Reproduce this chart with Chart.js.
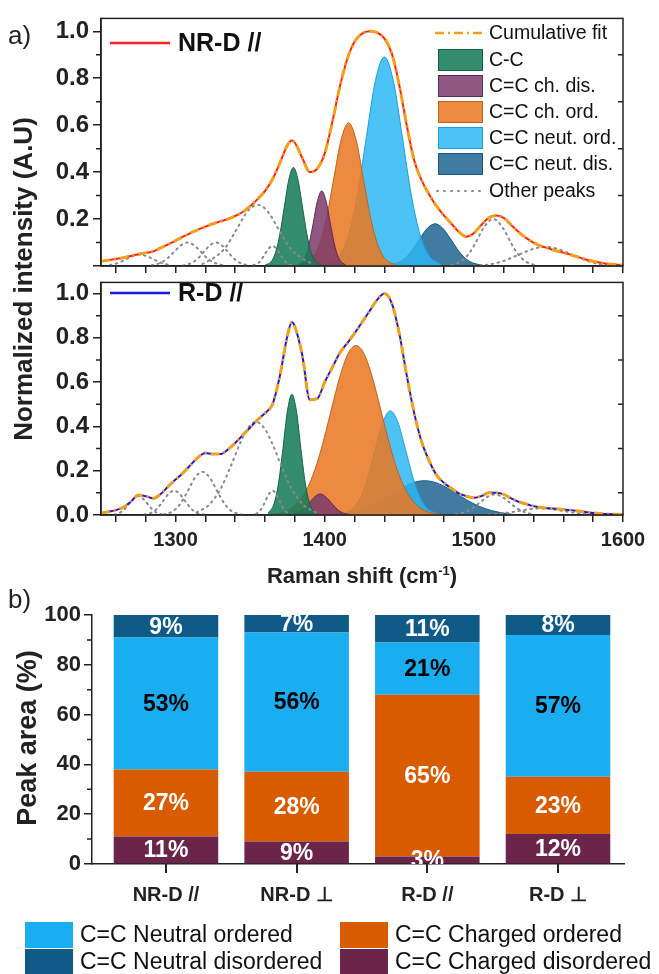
<!DOCTYPE html>
<html>
<head>
<meta charset="utf-8">
<title>Raman spectra and peak areas</title>
<script src="https://cdn.jsdelivr.net/npm/chart.js"></script>
<style>
  body {
    margin: 0;
    width: 659px;
    height: 974px;
    position: relative;
    overflow: hidden;
    background: #ffffff;
    font-family: "Liberation Sans", Arial, sans-serif;
    color: #222;
  }
  canvas { position: absolute; left: 0; }
  #topChart { top: 0; z-index: 3; }
  #midChart { top: 264px; z-index: 2; }
  #barChart { top: 590px; z-index: 1; }
  .txt { position: absolute; z-index: 5; white-space: nowrap; }
  .rot { transform: rotate(-90deg); text-align: center; font-weight: bold; }
</style>
</head>
<body>
<canvas id="topChart" width="659" height="285"></canvas>
<canvas id="midChart" width="659" height="330"></canvas>
<canvas id="barChart" width="659" height="384"></canvas>

<div class="txt" style="left:8px;top:20px;font-size:26px;">a)</div>
<div class="txt" style="left:8px;top:584px;font-size:26px;">b)</div>
<div class="txt rot" style="left:-207px;top:264px;width:460px;font-size:26px;line-height:30px;">Normalized intensity (A.U)</div>
<div class="txt rot" style="left:-123px;top:723px;width:300px;font-size:27px;line-height:30px;">Peak area (%)</div>
<div class="txt" style="left:162px;top:563px;width:400px;text-align:center;font-size:22px;font-weight:bold;">Raman shift (cm<sup style="font-size:13px;">-1</sup>)</div>

<script>
// ---- spectra: shared Raman shift grid (cm-1) ----
const shiftX = [1250,1255,1260,1265,1270,1275,1280,1285,1290,1295,1300,1305,1310,1315,1320,1325,1330,1335,1340,1345,1350,1355,1360,1365,1370,1375,1378,1380,1385,1390,1395,1400,1405,1410,1415,1420,1425,1430,1435,1440,1445,1450,1455,1460,1465,1470,1475,1480,1485,1490,1495,1500,1505,1510,1515,1520,1525,1530,1535,1540,1545,1550,1555,1560,1565,1570,1575,1580,1585,1590,1595,1600];

// NR-D // measured spectrum (cumulative fit lies on top of it)
const nrdSpectrum = [0.02,0.025,0.03,0.035,0.043,0.05,0.056,0.062,0.077,0.092,0.108,0.125,0.14,0.155,0.168,0.18,0.19,0.20,0.213,0.23,0.255,0.285,0.32,0.37,0.44,0.515,0.535,0.525,0.46,0.40,0.415,0.48,0.61,0.76,0.88,0.955,0.99,1.0,0.995,0.97,0.905,0.77,0.60,0.45,0.365,0.305,0.255,0.215,0.18,0.145,0.125,0.14,0.175,0.205,0.215,0.205,0.175,0.145,0.12,0.10,0.085,0.075,0.065,0.057,0.048,0.038,0.028,0.02,0.014,0.009,0.006,0.004];
// R-D // measured spectrum
const rdSpectrum = [0.008,0.015,0.022,0.035,0.06,0.09,0.085,0.075,0.095,0.128,0.16,0.19,0.225,0.26,0.28,0.275,0.275,0.295,0.325,0.36,0.395,0.43,0.46,0.50,0.63,0.81,0.87,0.85,0.72,0.52,0.525,0.60,0.665,0.73,0.775,0.82,0.87,0.92,0.97,1.0,0.955,0.82,0.63,0.46,0.33,0.245,0.18,0.145,0.12,0.097,0.085,0.078,0.085,0.10,0.10,0.093,0.075,0.06,0.05,0.04,0.034,0.03,0.028,0.025,0.022,0.018,0.014,0.009,0.006,0.004,0.003,0.002];

// fitted components, NR-D // : [shift, intensity]
const nrdCC = [[1360,0.004],[1364,0.018],[1367,0.056],[1370,0.137],[1373,0.255],[1376,0.37],[1379,0.42],[1382,0.37],[1385,0.255],[1388,0.137],[1391,0.056],[1394,0.018],[1398,0.004]];
const nrdChDis = [[1382,0.004],[1386,0.027],[1389,0.079],[1392,0.172],[1395,0.274],[1398,0.32],[1401,0.274],[1404,0.172],[1407,0.079],[1410,0.027],[1414,0.004]];
const nrdChOrd = [[1384,0.004],[1391,0.027],[1396,0.083],[1401,0.198],[1406,0.37],[1411,0.538],[1416,0.61],[1421,0.538],[1426,0.37],[1431,0.198],[1436,0.083],[1441,0.027],[1448,0.004]];
const nrdNeutOrd = [[1402,0.007],[1410,0.045],[1416,0.132],[1422,0.304],[1428,0.552],[1434,0.79],[1440,0.89],[1446,0.79],[1452,0.552],[1458,0.304],[1464,0.132],[1470,0.045],[1478,0.007]];
const nrdNeutDis = [[1442,0.003],[1449,0.014],[1454,0.034],[1459,0.071],[1464,0.119],[1469,0.162],[1474,0.18],[1479,0.162],[1484,0.119],[1489,0.071],[1494,0.034],[1499,0.014],[1506,0.003]];
const nrdOther = [
  [[1256,0.004],[1261,0.012],[1266,0.026],[1271,0.041],[1276,0.048],[1281,0.041],[1286,0.026],[1291,0.012],[1296,0.004]],
  [[1284,0.003],[1290,0.014],[1295,0.035],[1300,0.067],[1304,0.09],[1308,0.10],[1312,0.09],[1316,0.067],[1321,0.035],[1326,0.014],[1332,0.003]],
  [[1305,0.002],[1311,0.014],[1315,0.032],[1319,0.061],[1323,0.088],[1327,0.10],[1331,0.088],[1335,0.061],[1339,0.032],[1343,0.014],[1349,0.002]],
  [[1318,0.008],[1326,0.036],[1333,0.075],[1340,0.146],[1346,0.212],[1350,0.245],[1355,0.26],[1360,0.245],[1364,0.212],[1370,0.146],[1377,0.075],[1384,0.036],[1392,0.008]],
  [[1352,0.003],[1356,0.016],[1359,0.041],[1362,0.071],[1365,0.085],[1368,0.071],[1371,0.041],[1374,0.016],[1378,0.003]],
  [[1485,0.004],[1491,0.018],[1496,0.047],[1501,0.097],[1506,0.157],[1513,0.2],[1520,0.157],[1525,0.097],[1530,0.047],[1535,0.018],[1541,0.004]],
  [[1500,0.001],[1510,0.006],[1520,0.022],[1530,0.048],[1540,0.073],[1548,0.082],[1556,0.073],[1566,0.048],[1576,0.022],[1586,0.006],[1596,0.001]]
];

// fitted components, R-D //
const rdCC = [[1362,0.008],[1366,0.05],[1369,0.143],[1372,0.30],[1375,0.47],[1378,0.545],[1381,0.47],[1384,0.30],[1387,0.143],[1390,0.05],[1394,0.008]];
const rdChDis = [[1376,0.001],[1381,0.007],[1385,0.022],[1389,0.05],[1393,0.08],[1397,0.095],[1401,0.08],[1405,0.05],[1409,0.022],[1413,0.007],[1418,0.001]];
const rdChOrd = [[1363,0.002],[1371,0.01],[1379,0.036],[1386,0.092],[1391,0.161],[1396,0.259],[1401,0.383],[1406,0.518],[1411,0.643],[1416,0.733],[1421,0.765],[1426,0.733],[1431,0.643],[1436,0.518],[1441,0.383],[1446,0.259],[1451,0.161],[1456,0.092],[1463,0.036],[1471,0.01],[1479,0.002]];
const rdNeutOrd = [[1412,0.005],[1419,0.029],[1424,0.079],[1429,0.173],[1434,0.30],[1439,0.42],[1444,0.47],[1449,0.42],[1454,0.30],[1459,0.173],[1464,0.079],[1469,0.029],[1476,0.005]];
const rdNeutDis = [[1407,0.002],[1417,0.012],[1427,0.03],[1435,0.054],[1443,0.085],[1451,0.119],[1459,0.145],[1467,0.155],[1475,0.145],[1483,0.119],[1491,0.085],[1499,0.054],[1507,0.03],[1517,0.012],[1527,0.002]];
const rdOther = [
  [[1259,0.002],[1263,0.011],[1267,0.035],[1271,0.068],[1275,0.085],[1279,0.068],[1283,0.035],[1287,0.011],[1291,0.002]],
  [[1279,0.002],[1283,0.008],[1287,0.025],[1291,0.057],[1295,0.093],[1299,0.11],[1303,0.093],[1307,0.057],[1311,0.025],[1315,0.008],[1319,0.002]],
  [[1292,0.003],[1298,0.016],[1303,0.049],[1308,0.106],[1313,0.168],[1318,0.195],[1323,0.168],[1328,0.106],[1333,0.049],[1338,0.016],[1344,0.003]],
  [[1314,0.012],[1322,0.043],[1330,0.116],[1337,0.22],[1343,0.32],[1348,0.387],[1354,0.42],[1360,0.387],[1365,0.32],[1371,0.22],[1378,0.116],[1386,0.043],[1394,0.012]],
  [[1354,0.005],[1357,0.023],[1360,0.059],[1362,0.088],[1365,0.11],[1368,0.088],[1370,0.059],[1373,0.023],[1376,0.005]],
  [[1488,0.003],[1494,0.013],[1499,0.03],[1504,0.056],[1509,0.082],[1514,0.093],[1519,0.082],[1524,0.056],[1529,0.03],[1534,0.013],[1540,0.003]],
  [[1510,0.002],[1520,0.008],[1530,0.018],[1538,0.027],[1545,0.03],[1552,0.027],[1560,0.018],[1570,0.008],[1580,0.002]]
];

// ---- peak areas (%) ----
const sampleNames = ["NR-D //", "NR-D \u22A5", "R-D //", "R-D \u22A5"];
const sampleIndex = [0, 1, 2, 3];
const chargedDisordered = [11, 9, 3, 12];
const chargedOrdered = [27, 28, 65, 23];
const neutralOrdered = [53, 56, 21, 57];
const neutralDisordered = [9, 7, 11, 8];

// ---- styles ----
const FONT = '"Liberation Sans", Arial, sans-serif';
const INK = "#222";
const peakStyle = {
  cc:      { fill: "rgba(24,124,90,0.88)",  line: "#146348" },
  chDis:   { fill: "rgba(125,58,108,0.85)", line: "#5e2a52" },
  chOrd:   { fill: "rgba(232,122,38,0.88)", line: "#c1631a" },
  neutOrd: { fill: "rgba(45,183,243,0.85)", line: "#1e9fd8" },
  neutDis: { fill: "rgba(30,100,145,0.85)", line: "#1a5a82" }
};
const fitColor = "#f0a21c";
const otherColor = "#8a8a8a";

function pts(xs, ys) { return xs.map((x, i) => ({ x: x, y: ys[i] })); }
function pairs(a) { return a.map(p => ({ x: p[0], y: p[1] })); }

// frame, minor ticks and in-plot legends of the spectra
const spectrumDecor = {
  id: "spectrumDecor",
  afterDraw(chart, args, o) {
    const { ctx, chartArea: a, scales: { x, y } } = chart;
    ctx.save();
    ctx.strokeStyle = INK;
    ctx.lineWidth = 1.5;
    ctx.strokeRect(a.left, a.top, a.right - a.left, a.bottom - a.top);
    ctx.beginPath();
    [0.1, 0.3, 0.5, 0.7, 0.9].forEach(v => {
      const py = y.getPixelForValue(v);
      ctx.moveTo(a.left - 5, py); ctx.lineTo(a.left, py);
      ctx.moveTo(a.right - 5, py); ctx.lineTo(a.right, py);
    });
    ctx.stroke();

    // sample label, top left
    ctx.lineWidth = 2.5;
    ctx.strokeStyle = o.sampleColor;
    ctx.beginPath(); ctx.moveTo(110, o.sampleY); ctx.lineTo(170, o.sampleY); ctx.stroke();
    ctx.fillStyle = "#111";
    ctx.font = "bold 25px " + FONT;
    ctx.textBaseline = "middle";
    ctx.textAlign = "left";
    ctx.fillText(o.sample, 178, o.sampleY + 1);

    if (o.legend) {
      ctx.font = "19.5px " + FONT;
      const rows = [
        { t: "line", label: "Cumulative fit", y: 33 },
        { t: "box", label: "C-C", s: peakStyle.cc, y: 60 },
        { t: "box", label: "C=C ch. dis.", s: peakStyle.chDis, y: 86 },
        { t: "box", label: "C=C ch. ord.", s: peakStyle.chOrd, y: 112 },
        { t: "box", label: "C=C neut. ord.", s: peakStyle.neutOrd, y: 138 },
        { t: "box", label: "C=C neut. dis.", s: peakStyle.neutDis, y: 164 },
        { t: "dots", label: "Other peaks", y: 191 }
      ];
      rows.forEach(r => {
        if (r.t === "line") {
          ctx.strokeStyle = fitColor; ctx.lineWidth = 2.5; ctx.setLineDash([9, 4, 2, 4]);
          ctx.beginPath(); ctx.moveTo(435, r.y); ctx.lineTo(483, r.y); ctx.stroke();
          ctx.setLineDash([]);
        } else if (r.t === "dots") {
          ctx.strokeStyle = otherColor; ctx.lineWidth = 2; ctx.lineCap = "round"; ctx.setLineDash([1, 6]);
          ctx.beginPath(); ctx.moveTo(437, r.y); ctx.lineTo(483, r.y); ctx.stroke();
          ctx.setLineDash([]); ctx.lineCap = "butt";
        } else {
          ctx.fillStyle = r.s.fill; ctx.fillRect(438, r.y - 11, 45, 22);
          ctx.strokeStyle = r.s.line; ctx.lineWidth = 1; ctx.strokeRect(438.5, r.y - 10.5, 44, 21);
        }
        ctx.fillStyle = "#111";
        ctx.fillText(r.label, 489, r.y + 1);
      });
    }
    ctx.restore();
  }
};

function spectrumDatasets(spectrum, sampleColor, cc, chDis, chOrd, neutOrd, neutDis, others) {
  const line = (data, color, width, dash) => ({
    data: data, borderColor: color, borderWidth: width, borderDash: dash || [],
    pointRadius: 0, fill: false, cubicInterpolationMode: "monotone"
  });
  const area = (data, s) => ({
    data: pairs(data), borderColor: s.line, borderWidth: 1, backgroundColor: s.fill,
    pointRadius: 0, fill: "origin", cubicInterpolationMode: "monotone"
  });
  const sets = [
    line(pts(shiftX, spectrum), fitColor, 3, [9, 4, 2, 4]),   // cumulative fit
    line(pts(shiftX, spectrum), sampleColor, 2)                // measured
  ];
  others.forEach(o => {
    const d = line(pairs(o), otherColor, 2, [1.5, 4.5]);
    d.borderCapStyle = "round";
    sets.push(d);
  });
  sets.push(area(cc, peakStyle.cc), area(chDis, peakStyle.chDis), area(chOrd, peakStyle.chOrd),
            area(neutOrd, peakStyle.neutOrd), area(neutDis, peakStyle.neutDis));
  return sets;
}

function spectrumChart(id, datasets, o) {
  return new Chart(document.getElementById(id), {
    type: "line",
    data: { datasets: datasets },
    plugins: [spectrumDecor],
    options: {
      responsive: false,
      animation: false,
      layout: { padding: { left: 0, right: 36, top: o.padTop, bottom: 0 } },
      plugins: {
        legend: { display: false },
        tooltip: { enabled: false },
        spectrumDecor: o.decor
      },
      scales: {
        x: {
          type: "linear", min: 1250, max: 1600,
          afterFit(s) { s.height = o.xHeight; },
          border: { display: true, color: INK, width: 1.5 },
          grid: { drawOnChartArea: false, drawTicks: true, tickLength: 7, color: INK, lineWidth: 1.5 },
          ticks: {
            stepSize: 20, includeBounds: false, maxRotation: 0, autoSkip: false,
            padding: 6, color: INK, font: { family: FONT, size: 20, weight: "bold" },
            callback: v => (o.xLabels && v % 100 === 0) ? String(v) : ""
          }
        },
        y: {
          min: 0, max: o.yMax,
          afterFit(s) { s.width = 101; },
          border: { display: true, color: INK, width: 1.5 },
          grid: { drawOnChartArea: false, drawTicks: true, tickLength: 8, color: INK, lineWidth: 1.5 },
          ticks: {
            stepSize: 0.2, includeBounds: false, padding: 4, color: INK,
            font: { family: FONT, size: 24, weight: "bold" },
            callback: v => (o.hideZero && v === 0) ? "" : v.toFixed(1)
          }
        }
      }
    }
  });
}

spectrumChart("topChart",
  spectrumDatasets(nrdSpectrum, "#ff2020", nrdCC, nrdChDis, nrdChOrd, nrdNeutOrd, nrdNeutDis, nrdOther),
  { padTop: 16, xHeight: 19, yMax: 1.055, hideZero: true, xLabels: false,
    decor: { sample: "NR-D //", sampleColor: "#ff2020", sampleY: 43, legend: true } });

spectrumChart("midChart",
  spectrumDatasets(rdSpectrum, "#1a1ae6", rdCC, rdChDis, rdChOrd, rdNeutOrd, rdNeutDis, rdOther),
  { padTop: 2, xHeight: 79, yMax: 1.05, hideZero: false, xLabels: true,
    decor: { sample: "R-D //", sampleColor: "#1a1ae6", sampleY: 29, legend: false } });

// ---- stacked bars ----
const barDecor = {
  id: "barDecor",
  afterDatasetsDraw(chart) {
    const { ctx, chartArea: a } = chart;
    ctx.save();
    // clip only at the base line so the small 3% label is cut like in the figure
    ctx.beginPath();
    ctx.rect(a.left, 0, a.right - a.left, a.bottom);
    ctx.clip();
    ctx.font = "bold 23px " + FONT;
    ctx.textAlign = "center";
    ctx.textBaseline = "middle";
    chart.data.datasets.forEach((ds, di) => {
      chart.getDatasetMeta(di).data.forEach((bar, i) => {
        ctx.fillStyle = ds.labelColor;
        ctx.fillText(ds.data[i].y + "%", bar.x, (bar.y + bar.base) / 2 + 1);
      });
    });
    ctx.restore();
  },
  afterDraw(chart) {
    const { ctx, chartArea: a, scales: { x, y } } = chart;
    ctx.save();
    ctx.strokeStyle = INK;
    ctx.lineWidth = 1.5;
    ctx.beginPath();
    [10, 30, 50, 70, 90].forEach(v => {
      const py = y.getPixelForValue(v);
      ctx.moveTo(a.left - 5, py); ctx.lineTo(a.left, py);
    });
    ctx.stroke();
    // category ticks under the bars
    ctx.lineWidth = 2;
    ctx.beginPath();
    sampleIndex.forEach(i => {
      const px = Math.round(x.getPixelForValue(i));
      ctx.moveTo(px, a.bottom); ctx.lineTo(px, a.bottom + 9);
    });
    ctx.stroke();
    // legend below the axis
    ctx.font = "23px " + FONT;
    ctx.textBaseline = "middle";
    ctx.textAlign = "left";
    const ds = chart.data.datasets;
    const slots = [
      { d: ds[2], x: 25, y: 345 }, { d: ds[1], x: 340, y: 345 },
      { d: ds[3], x: 25, y: 372 }, { d: ds[0], x: 340, y: 372 }
    ];
    slots.forEach(s => {
      ctx.fillStyle = s.d.backgroundColor;
      ctx.fillRect(s.x, s.y - 13, 48, 26);
      ctx.fillStyle = "#111";
      ctx.fillText(s.d.label, s.x + 55, s.y + 1);
    });
    ctx.restore();
  }
};

const barSet = (label, values, color, labelColor) => ({
  label: label, data: pts(sampleIndex, values), backgroundColor: color,
  labelColor: labelColor, barPercentage: 0.8, categoryPercentage: 1, borderWidth: 0
});

new Chart(document.getElementById("barChart"), {
  type: "bar",
  data: {
    datasets: [
      barSet("C=C Charged disordered", chargedDisordered, "#6b254a", "#ffffff"),
      barSet("C=C Charged ordered", chargedOrdered, "#d95b00", "#ffffff"),
      barSet("C=C Neutral ordered", neutralOrdered, "#1aadf0", "#000000"),
      barSet("C=C Neutral disordered", neutralDisordered, "#0f5a86", "#ffffff")
    ]
  },
  plugins: [barDecor],
  options: {
    responsive: false,
    animation: false,
    layout: { padding: { left: 0, right: 35, top: 25, bottom: 0 } },
    plugins: { legend: { display: false }, tooltip: { enabled: false } },
    scales: {
      x: {
        type: "linear", min: -0.566, max: 3.505, stacked: true, offset: false,
        afterFit(s) { s.height = 110; },
        border: { display: true, color: INK, width: 1.5 },
        grid: { offset: false, drawOnChartArea: false, drawTicks: false, tickLength: 8 },
        ticks: {
          stepSize: 1, includeBounds: false, autoSkip: false, maxRotation: 0,
          padding: 19, color: INK, font: { family: FONT, size: 20, weight: "bold" },
          callback: v => sampleNames[v] || ""
        }
      },
      y: {
        min: 0, max: 100, stacked: true,
        afterFit(s) { s.width = 92; },
        border: { display: true, color: INK, width: 1.5 },
        grid: { drawOnChartArea: false, drawTicks: true, tickLength: 8, color: INK, lineWidth: 1.5 },
        ticks: {
          stepSize: 20, padding: 3, color: INK,
          font: { family: FONT, size: 22, weight: "bold" }
        }
      }
    }
  }
});
</script>
</body>
</html>
